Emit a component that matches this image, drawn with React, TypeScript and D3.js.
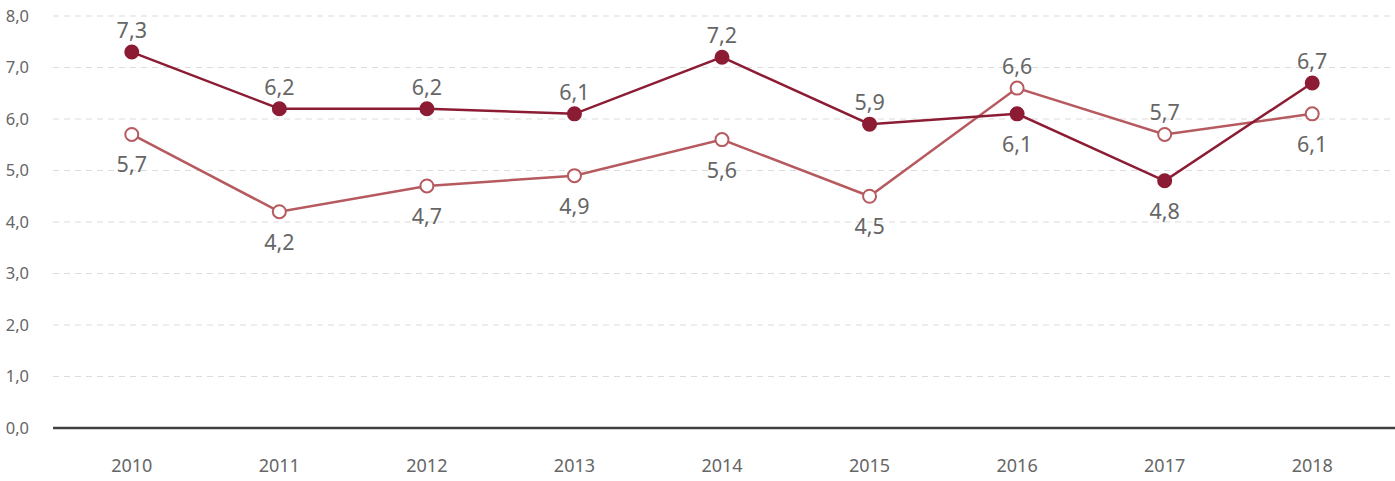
import * as d3 from "d3";
import { useEffect, useRef } from "react";

const years = ["2010", "2011", "2012", "2013", "2014", "2015", "2016", "2017", "2018"];
const darkValues = [7.3, 6.2, 6.2, 6.1, 7.2, 5.9, 6.1, 4.8, 6.7];
const lightValues = [5.7, 4.2, 4.7, 4.9, 5.6, 4.5, 6.6, 5.7, 6.1];
const yTicks = [0, 1, 2, 3, 4, 5, 6, 7, 8];

const width = 1395;
const height = 481;
const fmt = (v: number) => v.toFixed(1).replace(".", ",");

export default function App() {
  const ref = useRef<SVGSVGElement>(null);

  useEffect(() => {
    const svg = d3.select(ref.current);
    svg.selectAll("*").remove();

    const x = d3.scalePoint<string>().domain(years).range([58, 1386]).padding(0.5);
    const y = d3.scaleLinear().domain([0, 8]).range([428, 16]);

    const font = "'Noto Sans', 'Open Sans', sans-serif";
    const textColor = "#666666";

    // grid
    svg
      .append("g")
      .selectAll("line")
      .data(yTicks.filter((d) => d > 0))
      .join("line")
      .attr("x1", 53)
      .attr("x2", width)
      .attr("y1", (d) => y(d))
      .attr("y2", (d) => y(d))
      .attr("stroke", "#dcdcdc")
      .attr("stroke-width", 1.2)
      .attr("stroke-dasharray", "6,5");

    // y labels
    svg
      .append("g")
      .selectAll("text")
      .data(yTicks)
      .join("text")
      .attr("x", 29)
      .attr("y", (d) => y(d))
      .attr("dy", "0.35em")
      .attr("text-anchor", "end")
      .attr("font-family", font)
      .attr("font-size", 16.5)
      .attr("fill", textColor)
      .text((d) => fmt(d));

    // x axis
    svg
      .append("line")
      .attr("x1", 53)
      .attr("x2", width)
      .attr("y1", y(0))
      .attr("y2", y(0))
      .attr("stroke", "#404040")
      .attr("stroke-width", 2.5);

    svg
      .append("g")
      .selectAll("text")
      .data(years)
      .join("text")
      .attr("x", (d) => x(d)!)
      .attr("y", 472)
      .attr("text-anchor", "middle")
      .attr("font-family", font)
      .attr("font-size", 18)
      .attr("fill", textColor)
      .text((d) => d);

    const line = d3
      .line<number>()
      .x((_, i) => x(years[i])!)
      .y((d) => y(d));

    const series = [
      { values: lightValues, other: darkValues, color: "#b65a5f", fill: "#fff" },
      { values: darkValues, other: lightValues, color: "#8c1c33", fill: "#8c1c33" },
    ];

    series.forEach((s) => {
      svg
        .append("path")
        .datum(s.values)
        .attr("fill", "none")
        .attr("stroke", s.color)
        .attr("stroke-width", 2.5)
        .attr("d", line);

      svg
        .append("g")
        .selectAll("circle")
        .data(s.values)
        .join("circle")
        .attr("cx", (_, i) => x(years[i])!)
        .attr("cy", (d) => y(d))
        .attr("r", 6.5)
        .attr("fill", s.fill)
        .attr("stroke", s.color)
        .attr("stroke-width", 2);

      svg
        .append("g")
        .selectAll("text")
        .data(s.values)
        .join("text")
        .attr("x", (_, i) => x(years[i])!)
        .attr("y", (d, i) => (d >= s.other[i] ? y(d) - 14 : y(d) + 38))
        .attr("text-anchor", "middle")
        .attr("font-family", font)
        .attr("font-size", 21.5)
        .attr("fill", textColor)
        .text((d) => fmt(d));
    });
  }, []);

  return (
    <svg
      ref={ref}
      width={width}
      height={height}
      style={{ display: "block", position: "absolute", left: 0, top: 0 }}
    ></svg>
  );
}
